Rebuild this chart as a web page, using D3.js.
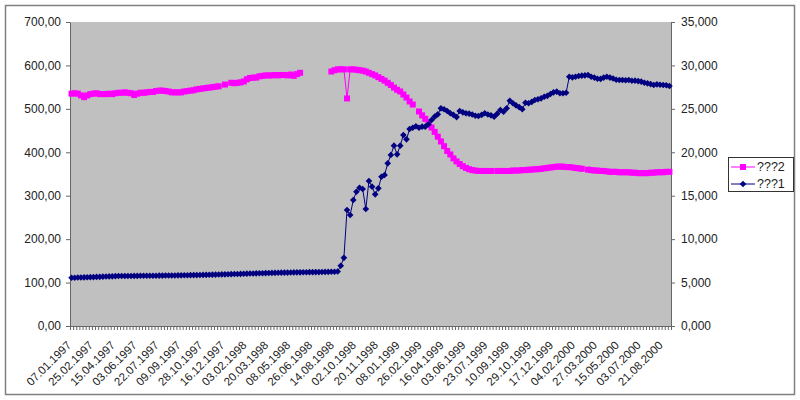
<!DOCTYPE html>
<html>
<head>
<meta charset="utf-8">
<script src="https://cdn.jsdelivr.net/npm/d3@7"></script>
<style>
  body { margin: 0; background: #fff; }
  text { font-family: "Liberation Sans", Arial, sans-serif; fill: #222; }
</style>
</head>
<body>
<svg width="800" height="400"></svg>
<script>
// series names as shown in the legend
const seriesNames = ["???2", "???1"];

// ???2 - magenta, left axis (null = no value that week)
const series2 = [
  535,536,535,531,527,531,534,535,536,534,
  534,534,535,534,536,537,537,538,537,536,
  532,535,537,537,538,539,539,541,542,542,
  541,540,538,538,538,538,540,541,542,543,
  545,546,547,548,549,550,551,552,null,556,
  null,560,559,560,561,563,568,571,572,572,
  575,576,577,577,577,578,577,578,578,577,
  579,576,580,583,null,null,null,null,null,null,
  null,null,null,586,589,591,591,591,524,591,
  591,590,589,588,586,583,580,577,573,569,
  565,560,555,549,544,540,533,526,517,510,
  null,494,485,477,468,457,447,436,425,414,
  403,395,386,379,373,368,364,361,359,358,
  357,357,357,357,357,null,357,357,357,357,
  357,358,358,358,359,359,360,360,361,361,
  362,363,364,365,366,367,367,367,366,366,
  365,364,363,362,null,360,359,358,358,357,
  357,356,355,355,355,354,354,354,354,353,
  353,352,352,352,352,353,353,354,354,354,
  355,355
];

// ???1 - navy, right axis
const series1 = [
  5.55,5.56,5.58,5.59,5.60,5.61,5.62,5.63,5.65,5.66,
  5.68,5.70,5.71,5.72,5.74,5.75,5.75,5.76,5.76,5.76,
  5.77,5.77,5.78,5.78,5.78,5.79,5.79,5.79,5.80,5.80,
  5.81,5.81,5.82,5.82,5.83,5.83,5.84,5.84,5.85,5.86,
  5.86,5.87,5.88,5.89,5.90,5.91,5.92,5.93,5.94,5.95,
  5.96,5.97,5.98,5.99,6.00,6.01,6.03,6.04,6.05,6.06,
  6.07,6.08,6.09,6.10,6.11,6.12,6.13,6.14,6.15,6.15,
  6.16,6.17,6.18,6.18,6.19,6.19,6.20,6.20,6.21,6.21,
  6.22,6.23,6.23,6.24,6.25,6.28,6.94,7.85,13.36,12.78,
  14.50,15.46,15.92,15.77,13.47,16.69,16.04,15.16,15.85,17.19,
  17.38,18.73,19.69,20.76,19.76,20.76,21.99,21.49,22.68,22.83,
  23.00,22.83,22.95,22.95,23.22,23.72,24.10,24.37,25.06,24.95,
  24.75,24.50,24.30,24.05,24.75,24.60,24.50,24.45,24.35,24.20,
  24.18,24.30,24.50,24.35,24.25,24.10,24.45,24.87,24.68,25.06,
  25.94,25.64,25.40,25.20,24.95,25.71,25.64,25.80,26.02,26.10,
  26.21,26.40,26.50,26.71,26.90,26.98,26.79,26.80,26.86,28.70,
  28.63,28.70,28.78,28.82,28.85,28.90,28.70,28.60,28.47,28.45,
  28.60,28.70,28.60,28.50,28.35,28.32,28.32,28.30,28.32,28.24,
  28.25,28.20,28.13,28.00,27.94,27.85,27.75,27.82,27.78,27.75,
  27.72,27.63
];

// category labels, one every 7th week
const tickLabels = [
  "07.01.1997","25.02.1997","15.04.1997","03.06.1997","22.07.1997","09.09.1997","28.10.1997",
  "16.12.1997","03.02.1998","20.03.1998","08.05.1998","26.06.1998","14.08.1998","02.10.1998",
  "20.11.1998","08.01.1999","26.02.1999","16.04.1999","03.06.1999","23.07.1999","10.09.1999",
  "29.10.1999","17.12.1999","04.02.2000","27.03.2000","15.05.2000","03.07.2000","21.08.2000"
];
const labelStep = 7;

const leftTicks = [0,100,200,300,400,500,600,700];
const rightTicks = [0,5,10,15,20,25,30,35];

const svg = d3.select("svg");
const plot = { left: 70, right: 671, top: 22, bottom: 326 };
const axisColor = "#666";

// chart frame
svg.append("rect")
  .attr("x", 5.5).attr("y", 5.5)
  .attr("width", 789).attr("height", 389)
  .attr("fill", "#fff")
  .attr("stroke", "#808080")
  .attr("stroke-width", 1.5);

const n = series1.length;
const x = d3.scaleBand().domain(d3.range(n)).range([plot.left, plot.right]).paddingInner(0);
const cx = i => x(i) + x.bandwidth() / 2;
const xEdge = d3.scaleLinear().domain([0, n]).range([plot.left, plot.right]);
const yL = d3.scaleLinear().domain([0, 700]).range([plot.bottom, plot.top]);
const yR = d3.scaleLinear().domain([0, 35]).range([plot.bottom, plot.top]);

const fmtL = d => d3.format(".2f")(d).replace(".", ",");
const fmtR = d => d3.format(".3f")(d).replace(".", ",");

// plot area
svg.append("rect")
  .attr("x", plot.left).attr("y", plot.top)
  .attr("width", plot.right - plot.left).attr("height", plot.bottom - plot.top)
  .attr("fill", "#c0c0c0");

// left axis
const gL = svg.append("g")
  .attr("transform", `translate(${plot.left},0)`)
  .call(d3.axisLeft(yL).tickValues(leftTicks).tickFormat(fmtL).tickSizeInner(4).tickSizeOuter(0).tickPadding(5));

// right axis
const gR = svg.append("g")
  .attr("transform", `translate(${plot.right},0)`)
  .call(d3.axisRight(yR).tickValues(rightTicks).tickFormat(fmtR).tickSizeInner(4).tickSizeOuter(0).tickPadding(6));

// bottom axis: a tick at every category boundary
const gB = svg.append("g")
  .attr("transform", `translate(0,${plot.bottom})`)
  .call(d3.axisBottom(xEdge).tickValues(d3.range(n + 1)).tickFormat("").tickSizeInner(4).tickSizeOuter(0));

[gL, gR, gB].forEach(g => {
  g.selectAll("path, line").attr("stroke", axisColor);
  g.selectAll("text").attr("font-size", 12).attr("fill", "#222")
    .style("font-family", "'Liberation Sans', Arial, sans-serif");
});

// rotated date labels
svg.append("g").selectAll("text")
  .data(tickLabels)
  .enter()
  .append("text")
  .attr("transform", (d, k) => `translate(${cx(k * labelStep) - 2.5},343) rotate(-45)`)
  .attr("text-anchor", "end")
  .attr("dy", "0.35em")
  .attr("font-size", 11.5)
  .text(d => d);

// ???2 line + square markers
const pts2 = series2.map((v, i) => ({ i, v }));
svg.append("path")
  .datum(pts2)
  .attr("fill", "none")
  .attr("stroke", "#ff00ff")
  .attr("stroke-width", 1)
  .attr("d", d3.line().defined(d => d.v != null).x(d => cx(d.i)).y(d => yL(d.v)));

const sq = 6;
svg.append("g").selectAll("rect")
  .data(pts2.filter(d => d.v != null))
  .enter()
  .append("rect")
  .attr("x", d => cx(d.i) - sq / 2)
  .attr("y", d => yL(d.v) - sq / 2)
  .attr("width", sq).attr("height", sq)
  .attr("fill", "#ff00ff");

// ???1 line + diamond markers
const pts1 = series1.map((v, i) => ({ i, v }));
svg.append("path")
  .datum(pts1)
  .attr("fill", "none")
  .attr("stroke", "#000080")
  .attr("stroke-width", 1)
  .attr("d", d3.line().x(d => cx(d.i)).y(d => yR(d.v)));

const diamond = d3.symbol().type(d3.symbolDiamond2).size(28);
svg.append("g").selectAll("path")
  .data(pts1)
  .enter()
  .append("path")
  .attr("transform", d => `translate(${cx(d.i)},${yR(d.v)})`)
  .attr("d", diamond)
  .attr("fill", "#000080");

// legend
const legend = svg.append("g").attr("transform", "translate(728,157)");
legend.append("rect")
  .attr("x", 0.5).attr("y", 0.5)
  .attr("width", 65).attr("height", 34)
  .attr("fill", "#fff")
  .attr("stroke", "#333");

const legendItems = [
  { name: seriesNames[0], color: "#ff00ff", y: 10, mark: "square" },
  { name: seriesNames[1], color: "#000080", y: 27, mark: "diamond" }
];
legendItems.forEach(it => {
  legend.append("line")
    .attr("x1", 3).attr("x2", 27)
    .attr("y1", it.y).attr("y2", it.y)
    .attr("stroke", it.color).attr("stroke-width", 1);
  if (it.mark === "square") {
    legend.append("rect")
      .attr("x", 15 - sq / 2).attr("y", it.y - sq / 2)
      .attr("width", sq).attr("height", sq)
      .attr("fill", it.color);
  } else {
    legend.append("path")
      .attr("transform", `translate(15,${it.y})`)
      .attr("d", diamond)
      .attr("fill", it.color);
  }
  legend.append("text")
    .attr("x", 29).attr("y", it.y)
    .attr("dy", "0.35em")
    .attr("font-size", 12.5)
    .text(it.name);
});
</script>
</body>
</html>
